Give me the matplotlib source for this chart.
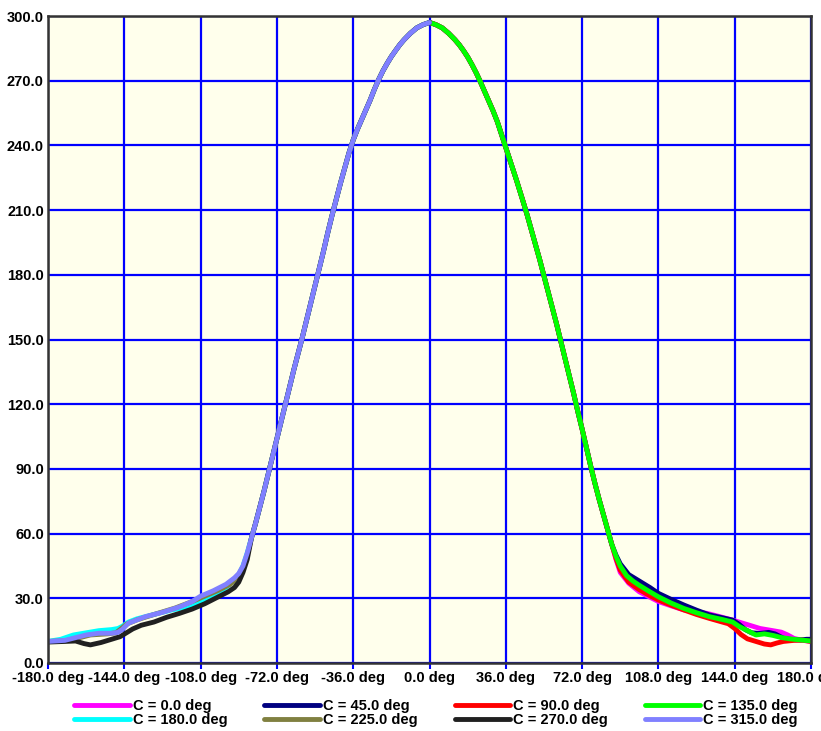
import numpy as np
import matplotlib.pyplot as plt

plt.rcParams['font.family'] = ['Liberation Sans', 'DejaVu Sans']
plt.rcParams['font.weight'] = 'bold'

# главный лепесток (общий для всех плоскостей)
lobe_left_deg = [-84, -82, -80, -78, -76, -74, -72, -70, -68, -66, -64, -62, -60, -58, -56,
                 -54, -52, -50, -48, -46, -44, -42, -40, -38, -36, -34, -32, -30, -28, -26, -24,
                 -22, -20, -18, -16, -14, -12, -9, -6, -3, 0]
lobe_left_val = [58, 65, 72.5, 80, 88, 96, 104, 112, 120, 128, 136, 143.5, 151, 159, 167,
                 175, 183, 191, 199.5, 207.5, 215, 222.5, 229.5, 236.5, 242.5, 247.5, 252, 256.5, 261, 266, 270.5,
                 274.5, 278, 281.2, 284, 286.7, 289, 292, 294.5, 296, 297]
lobe_right_deg = [0, 3, 6, 9, 12, 14, 16, 18, 20, 22, 24, 26, 28, 30, 32, 35, 38, 41, 44, 46, 48,
                  50, 52, 54, 56, 58, 60, 62, 64, 66, 68, 70, 72, 74, 76, 78, 80, 82, 84, 86]
lobe_right_val = [297, 296, 294.5, 292, 289, 286.7, 284, 281, 277.5, 273.7, 269.5, 265, 260.5, 256, 251, 242,
                  233, 224, 214.5, 208, 201, 194, 187, 179.5, 172, 164.5, 157, 149, 141, 133, 125,
                  116.5, 108.5, 100, 91.5, 83.5, 76, 69, 62, 55]

# хвосты по плоскостям C
tail_deg = {
    0: [88, 90, 94, 99, 104, 108, 114, 120, 126, 131, 137, 143, 150, 156, 162, 166, 169, 172, 176, 180],
    45: [88, 90, 94, 99, 104, 108, 114, 120, 126, 132, 138, 143, 146, 149, 152, 156, 160, 163, 167, 171, 175, 178, 180],
    90: [88, 90, 94, 99, 104, 108, 114, 120, 126, 132, 137, 141, 144, 147, 150, 154, 158, 161, 164, 167, 172, 176, 180],
    135: [88, 90, 93, 96, 99, 104, 108, 114, 120, 126, 132, 138, 143, 146, 150, 154, 158, 162, 166, 170, 175, 180],
    180: [-180, -174, -168, -162, -156, -150, -147, -145, -142, -138, -130, -122, -114, -108, -102, -96, -92, -90, -88, -86],
    225: [-180, -172, -166, -160, -152, -148, -146, -143, -138, -130, -120, -112, -106, -100, -94, -90, -88, -86],
    270: [-180, -172, -167, -163, -160, -155, -150, -146, -143, -140, -136, -130, -124, -118, -112, -106, -100, -95, -92, -90, -88, -86],
    315: [-180, -172, -166, -162, -156, -150, -147, -145, -142, -138, -134, -126, -118, -112, -108, -102, -96, -92, -90, -88, -86],
}
tail_val = {
    0: [48, 42, 37, 33, 30.5, 28.5, 26.5, 24.6, 23.8, 23, 21.5, 19.9, 17.8, 16, 15, 14.3, 13, 11.4, 10.5, 10],
    45: [50, 46, 41, 38, 35, 32.3, 29.5, 26.9, 24.5, 22.3, 21, 19.9, 18, 15.5, 14, 13.7, 14.2, 13.5, 11.5, 10.8, 10.7, 11, 11],
    90: [48.5, 43, 37.5, 34, 31.2, 29.2, 26.8, 24.6, 22.5, 20.7, 19.3, 18.2, 16, 13.2, 11.2, 10, 8.8, 8.4, 9.3, 10, 10.5, 10.6, 10],
    135: [49.5, 45, 40.5, 38, 36, 33, 30.7, 27.8, 25.3, 23.3, 21.5, 20.2, 19, 17, 15, 13, 13.5, 12.8, 11.8, 11.2, 10.7, 10.2],
    180: [10, 11, 13, 14, 15, 15.5, 16, 17, 19, 20.5, 22.5, 24.5, 26, 28, 31.5, 35, 38.5, 41, 45, 51],
    225: [10, 10.3, 11.5, 13, 13.5, 14, 15.5, 18, 20, 22.5, 25.5, 28.5, 31, 33.5, 36.5, 40, 44, 50],
    270: [9.7, 10, 10.2, 9, 8.4, 9.5, 11, 12.2, 14, 15.8, 17.5, 19, 21.2, 23, 25, 27.5, 30.5, 33, 35, 37.5, 42, 48],
    315: [10, 10.5, 12, 13, 13.8, 13.8, 14.2, 15.5, 18.5, 20, 21.5, 23.5, 26, 28.5, 31, 33.5, 36.5, 39.5, 41.5, 45, 51],
}
colors = {0: '#ff00ff', 45: '#000080', 90: '#ff0000', 135: '#00ff00',
          180: '#00ffff', 225: '#808040', 270: '#202020', 315: '#8080ff'}

fig = plt.figure(figsize=(8.21, 7.31), dpi=100)
ax = fig.add_axes([48/821, 1-663/731, 763/821, 647/731])
ax.set_facecolor('#ffffec')

lines = {}
for c in [0, 45, 90, 135, 180, 225, 270, 315]:
    if c < 180:
        deg = lobe_right_deg + tail_deg[c]
        val = lobe_right_val + tail_val[c]
    else:
        deg = tail_deg[c] + lobe_left_deg
        val = tail_val[c] + lobe_left_val
    lines[c], = ax.plot(deg, val, color=colors[c], lw=3.5,
                        solid_capstyle='round', solid_joinstyle='round',
                        label=f"C = {c:.1f} deg")

xt = np.arange(-180, 181, 36)
yt = np.arange(0, 301, 30)
ax.set_xlim(-180, 180)
ax.set_ylim(0, 300)
ax.set_xticks(xt)
ax.set_xticklabels([f"{v:.1f} deg" for v in xt])
ax.set_yticks(yt)
ax.set_yticklabels([f"{v:.1f}" for v in yt])
ax.grid(True, color='#0000ff', lw=1.6)
ax.set_axisbelow(True)
ax.tick_params(axis='x', length=4, width=1.5, color='#0000ff', pad=2, labelsize=10.5)
ax.tick_params(axis='y', length=0, pad=3, labelsize=10.5)
for s in ax.spines.values():
    s.set_color('#333333')
    s.set_linewidth(1.8)

order = [0, 180, 45, 225, 90, 270, 135, 315]
fig.legend([lines[c] for c in order], [lines[c].get_label() for c in order],
           ncol=4, loc='center', bbox_to_anchor=(436/821, 1-713/731),
           frameon=False, fontsize=10.5, handlelength=3.8, handletextpad=0.2,
           columnspacing=2.55, labelspacing=0.05, borderpad=0)

plt.savefig("out.png", dpi=100)
